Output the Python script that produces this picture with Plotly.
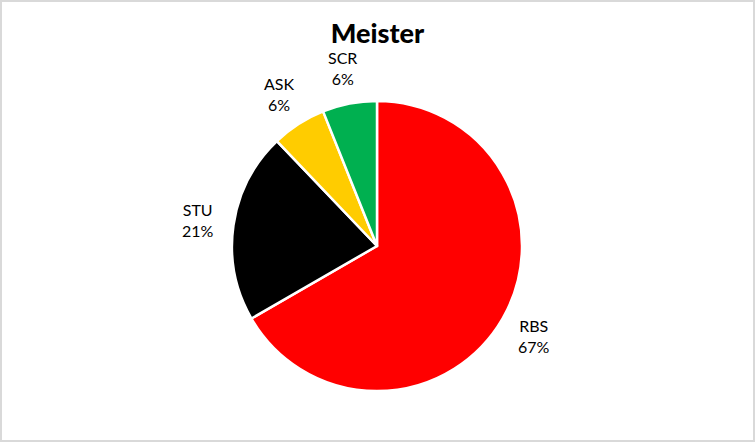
import math

import plotly.graph_objects as go

labels = ["RBS", "STU", "ASK", "SCR"]
values = [22, 7, 2, 2]
colors = ["#ff0000", "#000000", "#ffcc00", "#00b050"]

W, H = 755, 442
CX, CY, R = 377, 246, 145  # pie centre and radius in pixels
LABEL_DIST = 181

fig = go.Figure()
fig.add_trace(
    go.Pie(
        labels=labels,
        values=values,
        sort=False,
        direction="clockwise",
        rotation=0,
        marker=dict(colors=colors, line=dict(color="white", width=2.5)),
        textinfo="none",
        showlegend=False,
        hoverinfo="label+percent",
        domain=dict(x=[(CX - R) / W, (CX + R) / W], y=[1 - (CY + R) / H, 1 - (CY - R) / H]),
    )
)

# outside labels placed at each slice's mid-angle
total = sum(values)
start = 0.0
annotations = []
for name, v in zip(labels, values):
    frac = v / total
    mid = (start + frac / 2) * 2 * math.pi
    start += frac
    px = CX + LABEL_DIST * math.sin(mid)
    py = CY - LABEL_DIST * math.cos(mid)
    annotations.append(
        dict(
            x=px / W,
            y=1 - py / H,
            xref="paper",
            yref="paper",
            text=f"{name}<br>{round(frac * 100)}%",
            showarrow=False,
            xanchor="center",
            yanchor="middle",
            align="center",
            font=dict(family="Lato", size=16, color="#000000"),
        )
    )

fig.update_layout(
    width=W,
    height=H,
    margin=dict(l=0, r=0, t=0, b=0),
    paper_bgcolor="white",
    plot_bgcolor="white",
    title=dict(
        text="Meister",
        x=0.5,
        xanchor="center",
        y=1 - 34 / H,
        yanchor="middle",
        font=dict(family="Lato", size=27, color="#000000", weight=900),
    ),
    font=dict(family="Lato"),
    annotations=annotations,
    shapes=[
        dict(
            type="rect",
            xref="paper",
            yref="paper",
            x0=1 / W,
            x1=1 - 1 / W,
            y0=1 / H,
            y1=1 - 1 / H,
            line=dict(color="#d9d9d9", width=2),
        )
    ],
)

fig.write_html(
    "out.html",
    config={"displayModeBar": False},
    post_script="document.body.style.margin='0';",
)
